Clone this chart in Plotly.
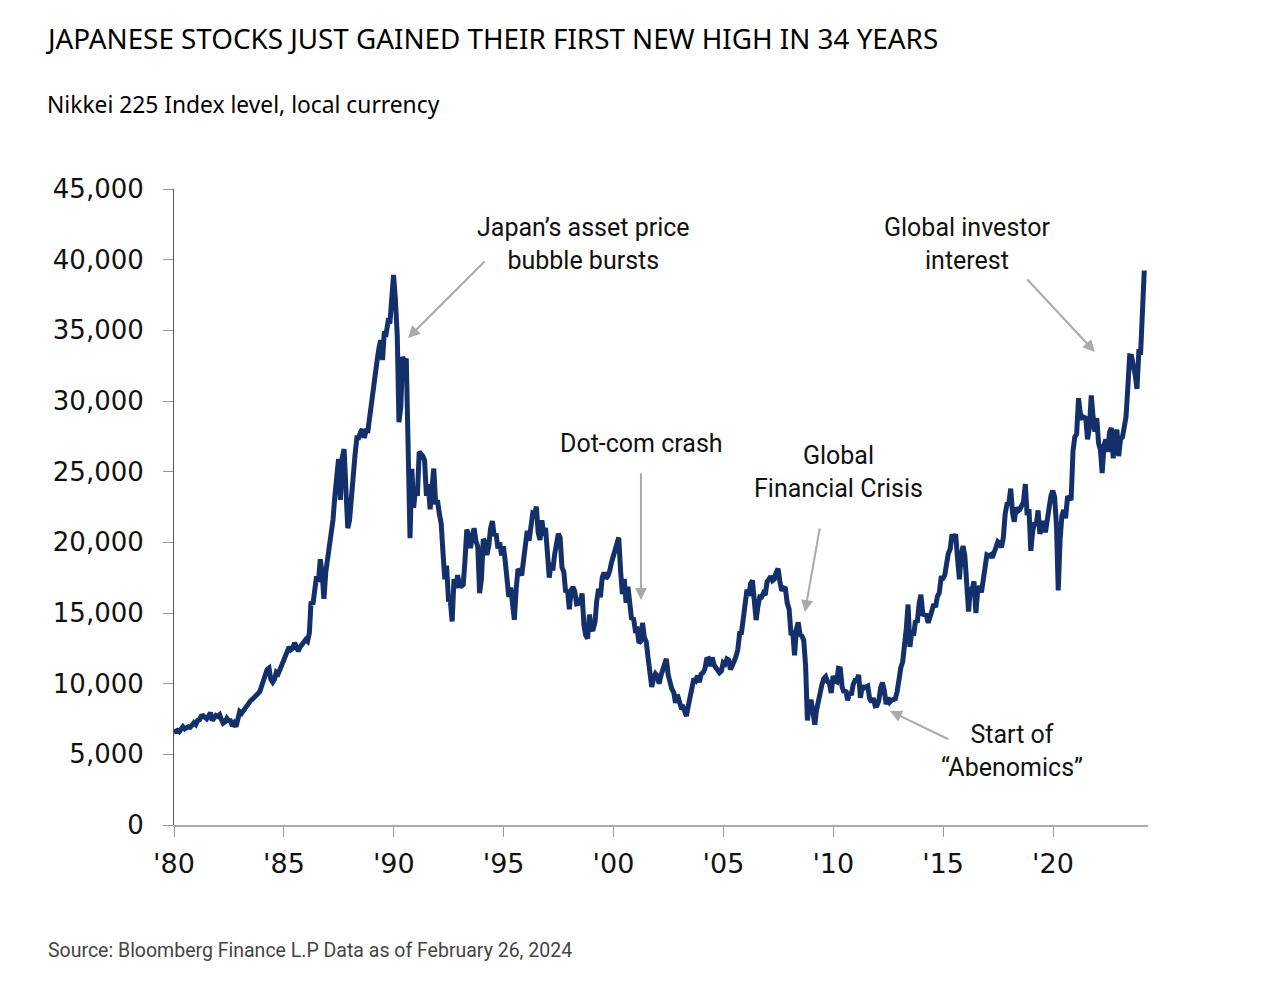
import plotly.graph_objects as go

# ---- Data: Nikkei 225, approximate month-end levels ----
start_date = "1979-12-28"
start_value = 6569

nikkei_1980s = [
    6630, 6690, 6600, 6720, 6950, 6800, 6870, 6960, 6920, 7150, 7240, 7116,
    7400, 7450, 7700, 7730, 7600, 7510, 7700, 7950, 7390, 7650, 7750, 7682,
    7800, 7450, 7200, 7300, 7550, 7380, 7380, 7000, 7200, 6950, 7500, 8017,
    7900, 8100, 8300, 8550, 8650, 8800, 8900, 9000, 9200, 9300, 9450, 9894,
    10200, 10500, 11000, 11100, 10300, 10100, 10300, 10800, 10700, 11000, 11300, 11543,
    11900, 12200, 12600, 12400, 12500, 12900, 12500, 12300, 12600, 12800, 12900, 13113,
    13000, 13600, 15800, 15600, 16600, 17600, 17200, 18800, 17800, 16000, 17900, 18701,
    20000, 20700, 21600, 23300, 25000, 25900, 23000, 26000, 26600, 23300, 21000, 21564,
    23600, 25000, 26200, 27400, 27400, 27800, 28000, 27400, 27900, 27900, 28900, 30159,
    31500, 32000, 32800, 33700, 34300, 32900, 34900, 34800, 35600, 35500, 37300, 38916,
]
nikkei_1990s = [
    37189, 34591, 28500, 29585, 33131, 32700, 33000, 25978, 20300, 25194, 22454, 23849,
    23293, 26409, 26292, 26111, 25790, 23290, 24120, 22336, 23916, 25222, 22687, 22984,
    22023, 21339, 19346, 17391, 18348, 15952, 15910, 14400, 17399, 16767, 17684, 16925,
    16900, 17000, 18600, 20900, 20500, 19600, 20400, 21000, 20100, 19700, 16400, 17417,
    20229, 19997, 19111, 19725, 20974, 21500, 20450, 20629, 19563, 19989, 19076, 19723,
    18650, 17053, 16140, 16807, 15437, 14517, 16678, 18117, 17913, 17655, 18744, 19868,
    20812, 20125, 21407, 22041, 21956, 22531, 20693, 20167, 21556, 20467, 21020, 19361,
    17500, 18557, 18003, 19151, 20068, 20605, 20331, 18229, 17888, 16459, 16636, 15259,
    16628, 16832, 16527, 15641, 15671, 15830, 16379, 14108, 13406, 13200, 14883, 13842,
    13859, 14368, 15837, 16702, 16112, 17530, 17862, 17437, 17606, 17943, 18558, 18934,
]
nikkei_2000s = [
    19540, 19960, 20337, 17974, 16332, 17411, 15727, 16861, 15747, 14539, 14649, 13785,
    13843, 12883, 12999, 14300, 13262, 12969, 11860, 10713, 9774, 10366, 10697, 10542,
    9997, 10587, 11024, 11492, 11763, 10621, 10000, 9619, 9383, 8640, 9216, 8579,
    8340, 8363, 7973, 7700, 8425, 9083, 9563, 10344, 10219, 10560, 10100, 10677,
    10784, 11042, 11715, 11762, 11236, 11858, 11326, 11082, 10824, 10771, 10899, 11489,
    11388, 11741, 11668, 11009, 11277, 11584, 11900, 12414, 13574, 13607, 14872, 16111,
    16650, 16206, 17060, 17300, 15467, 14500, 15457, 16141, 16128, 16399, 16274, 17226,
    17383, 17604, 17288, 17400, 17876, 18138, 17249, 16569, 16786, 16738, 15681, 15308,
    13592, 13603, 12000, 13850, 14338, 13481, 13377, 13073, 11260, 7400, 8512, 8860,
    7994, 7100, 8110, 8828, 9523, 9958, 10357, 10493, 10133, 10035, 9346, 10546,
]
nikkei_2010s = [
    10198, 10126, 11090, 11057, 9769, 9383, 9537, 8824, 9369, 9202, 9937, 10229,
    10238, 10624, 9000, 9850, 9694, 9816, 9833, 8955, 8700, 8988, 8435, 8455,
    8803, 9723, 10084, 9521, 8543, 9007, 8695, 8840, 8870, 8928, 9446, 10395,
    11139, 11559, 12398, 13861, 15600, 12600, 13668, 13389, 14456, 14328, 15662, 16291,
    14915, 14841, 14828, 14304, 14632, 15162, 15621, 15425, 16174, 16414, 17460, 17451,
    17674, 18798, 19207, 19520, 20563, 20236, 20585, 18890, 17388, 19083, 19747, 19034,
    17518, 15100, 16759, 16666, 17235, 15000, 16569, 16887, 16450, 17425, 18308, 19114,
    19041, 19119, 18909, 19197, 19651, 20033, 19925, 19646, 20356, 22012, 22725, 22765,
    23800, 22068, 21454, 22468, 22202, 22305, 22554, 22865, 24120, 21920, 22351, 19400,
    20773, 21385, 21206, 22259, 20601, 21276, 21522, 20704, 21756, 22927, 23294, 23657,
]
nikkei_2020s = [
    23205, 21143, 16600, 20194, 21878, 22288, 21710, 23140, 23185, 22977, 26434, 27444,
    27663, 30200, 29179, 28813, 28860, 28792, 27284, 28090, 30400, 28893, 27822, 28792,
    27002, 26527, 24900, 26848, 27280, 26393, 27802, 28092, 25937, 27587, 27969, 26095,
    27327, 27446, 28041, 28856, 30888, 33189, 33172, 32619, 31858, 30859, 33487, 33464,
    36287, 39233,
]
last_date = "2024-02-26"

tick_years = [1980, 1985, 1990, 1995, 2000, 2005, 2010, 2015, 2020]
tick_labels = ["'80", "'85", "'90", "'95", "'00", "'05", "'10", "'15", "'20"]
y_ticks = [0, 5000, 10000, 15000, 20000, 25000, 30000, 35000, 40000, 45000]

# ---- Build series ----
values = [start_value] + nikkei_1980s + nikkei_1990s + nikkei_2000s + nikkei_2010s + nikkei_2020s
dates = [start_date]
n_monthly = len(values) - 1
for i in range(n_monthly):
    y = 1980 + i // 12
    m = i % 12 + 1
    dates.append(f"{y}-{m:02d}-28")
dates[-1] = last_date

NAVY = "#13306a"
GREY = "#aaaaaa"

fig = go.Figure()
fig.add_trace(go.Scatter(
    x=dates, y=values, mode="lines",
    line=dict(color=NAVY, width=5),
    hoverinfo="skip", showlegend=False,
))

# plot area in pixels: x 174..1148, y 189..825
L, R, T, B = 174, 1148, 189, 825
W, H = 1272, 986


def px(xp):
    return (xp - L) / (R - L)


def py(yp):
    return (B - yp) / (B - T)


ann_font = dict(family="Roboto, Lato, sans-serif", size=25, color="#111111")
annotations = []

# Title, subtitle, source
annotations.append(dict(text="JAPANESE STOCKS JUST GAINED THEIR FIRST NEW HIGH IN 34 YEARS",
                        x=px(43), y=py(38), xref="paper", yref="paper",
                        xanchor="left", yanchor="middle", showarrow=False,
                        font=dict(family="Noto Sans", size=27.8, color="#000000")))
annotations.append(dict(text="Nikkei 225 Index level, local currency",
                        x=px(45), y=py(104), xref="paper", yref="paper",
                        xanchor="left", yanchor="middle", showarrow=False,
                        font=dict(family="Noto Sans", size=22.8, color="#000000")))
annotations.append(dict(text="Source: Bloomberg Finance L.P Data as of February 26, 2024",
                        x=px(46), y=py(950), xref="paper", yref="paper",
                        xanchor="left", yanchor="middle", showarrow=False,
                        font=dict(family="Roboto, sans-serif", size=19.5, color="#444444")))

# Callout texts
texts = [
    ("Japan’s asset price<br>bubble bursts", 583, 244),
    ("Global investor<br>interest", 967, 244),
    ("Dot-com crash", 641, 443),
    ("Global<br>Financial Crisis", 838, 472),
    ("Start of<br>“Abenomics”", 1012, 751),
]
for t, xx, yy in texts:
    annotations.append(dict(text=t, x=px(xx), y=py(yy), xref="paper", yref="paper",
                            xanchor="center", yanchor="middle", showarrow=False,
                            align="center", font=ann_font))

# Arrows (head in data coords, tail offset in pixels)
arrows = [
    ("1990-08-25", 34458, 78, -78),
    ("2001-04-01", 15920, 0, -128),
    ("2008-09-17", 15071, 15, -85),
    ("2012-07-30", 8066, 60, 29),
    ("2021-11-28", 33467, -69, -74),
]
for xd, yv, axo, ayo in arrows:
    annotations.append(dict(text="", x=xd, y=yv, xref="x", yref="y",
                            ax=axo, ay=ayo, showarrow=True,
                            arrowhead=2, arrowsize=1.2, arrowwidth=2, arrowcolor=GREY))

fig.update_layout(
    width=W, height=H,
    margin=dict(l=L, r=W - R, t=T, b=H - B, pad=0),
    paper_bgcolor="white", plot_bgcolor="white",
    annotations=annotations,
    xaxis=dict(
        type="date",
        range=["1980-01-01", "2024-04-28"],
        tickvals=[f"{y}-01-01" for y in tick_years],
        ticktext=tick_labels,
        ticks="outside", ticklen=10, tickwidth=1, tickcolor="#999999",
        showline=True, linecolor=GREY, linewidth=2,
        showgrid=False, zeroline=False,
        ticklabelstandoff=4,
        tickfont=dict(family="DejaVu Sans", size=27, color="#111111"),
    ),
    yaxis=dict(
        range=[0, 45000],
        tickvals=y_ticks,
        ticktext=[f"{v:,}" for v in y_ticks],
        ticks="outside", ticklen=10, tickwidth=1, tickcolor="#999999",
        showline=True, linecolor="#555555", linewidth=1,
        showgrid=False, zeroline=False,
        ticklabelstandoff=14,
        tickfont=dict(family="DejaVu Sans", size=26, color="#111111"),
    ),
)

fig.write_html("out.html")
